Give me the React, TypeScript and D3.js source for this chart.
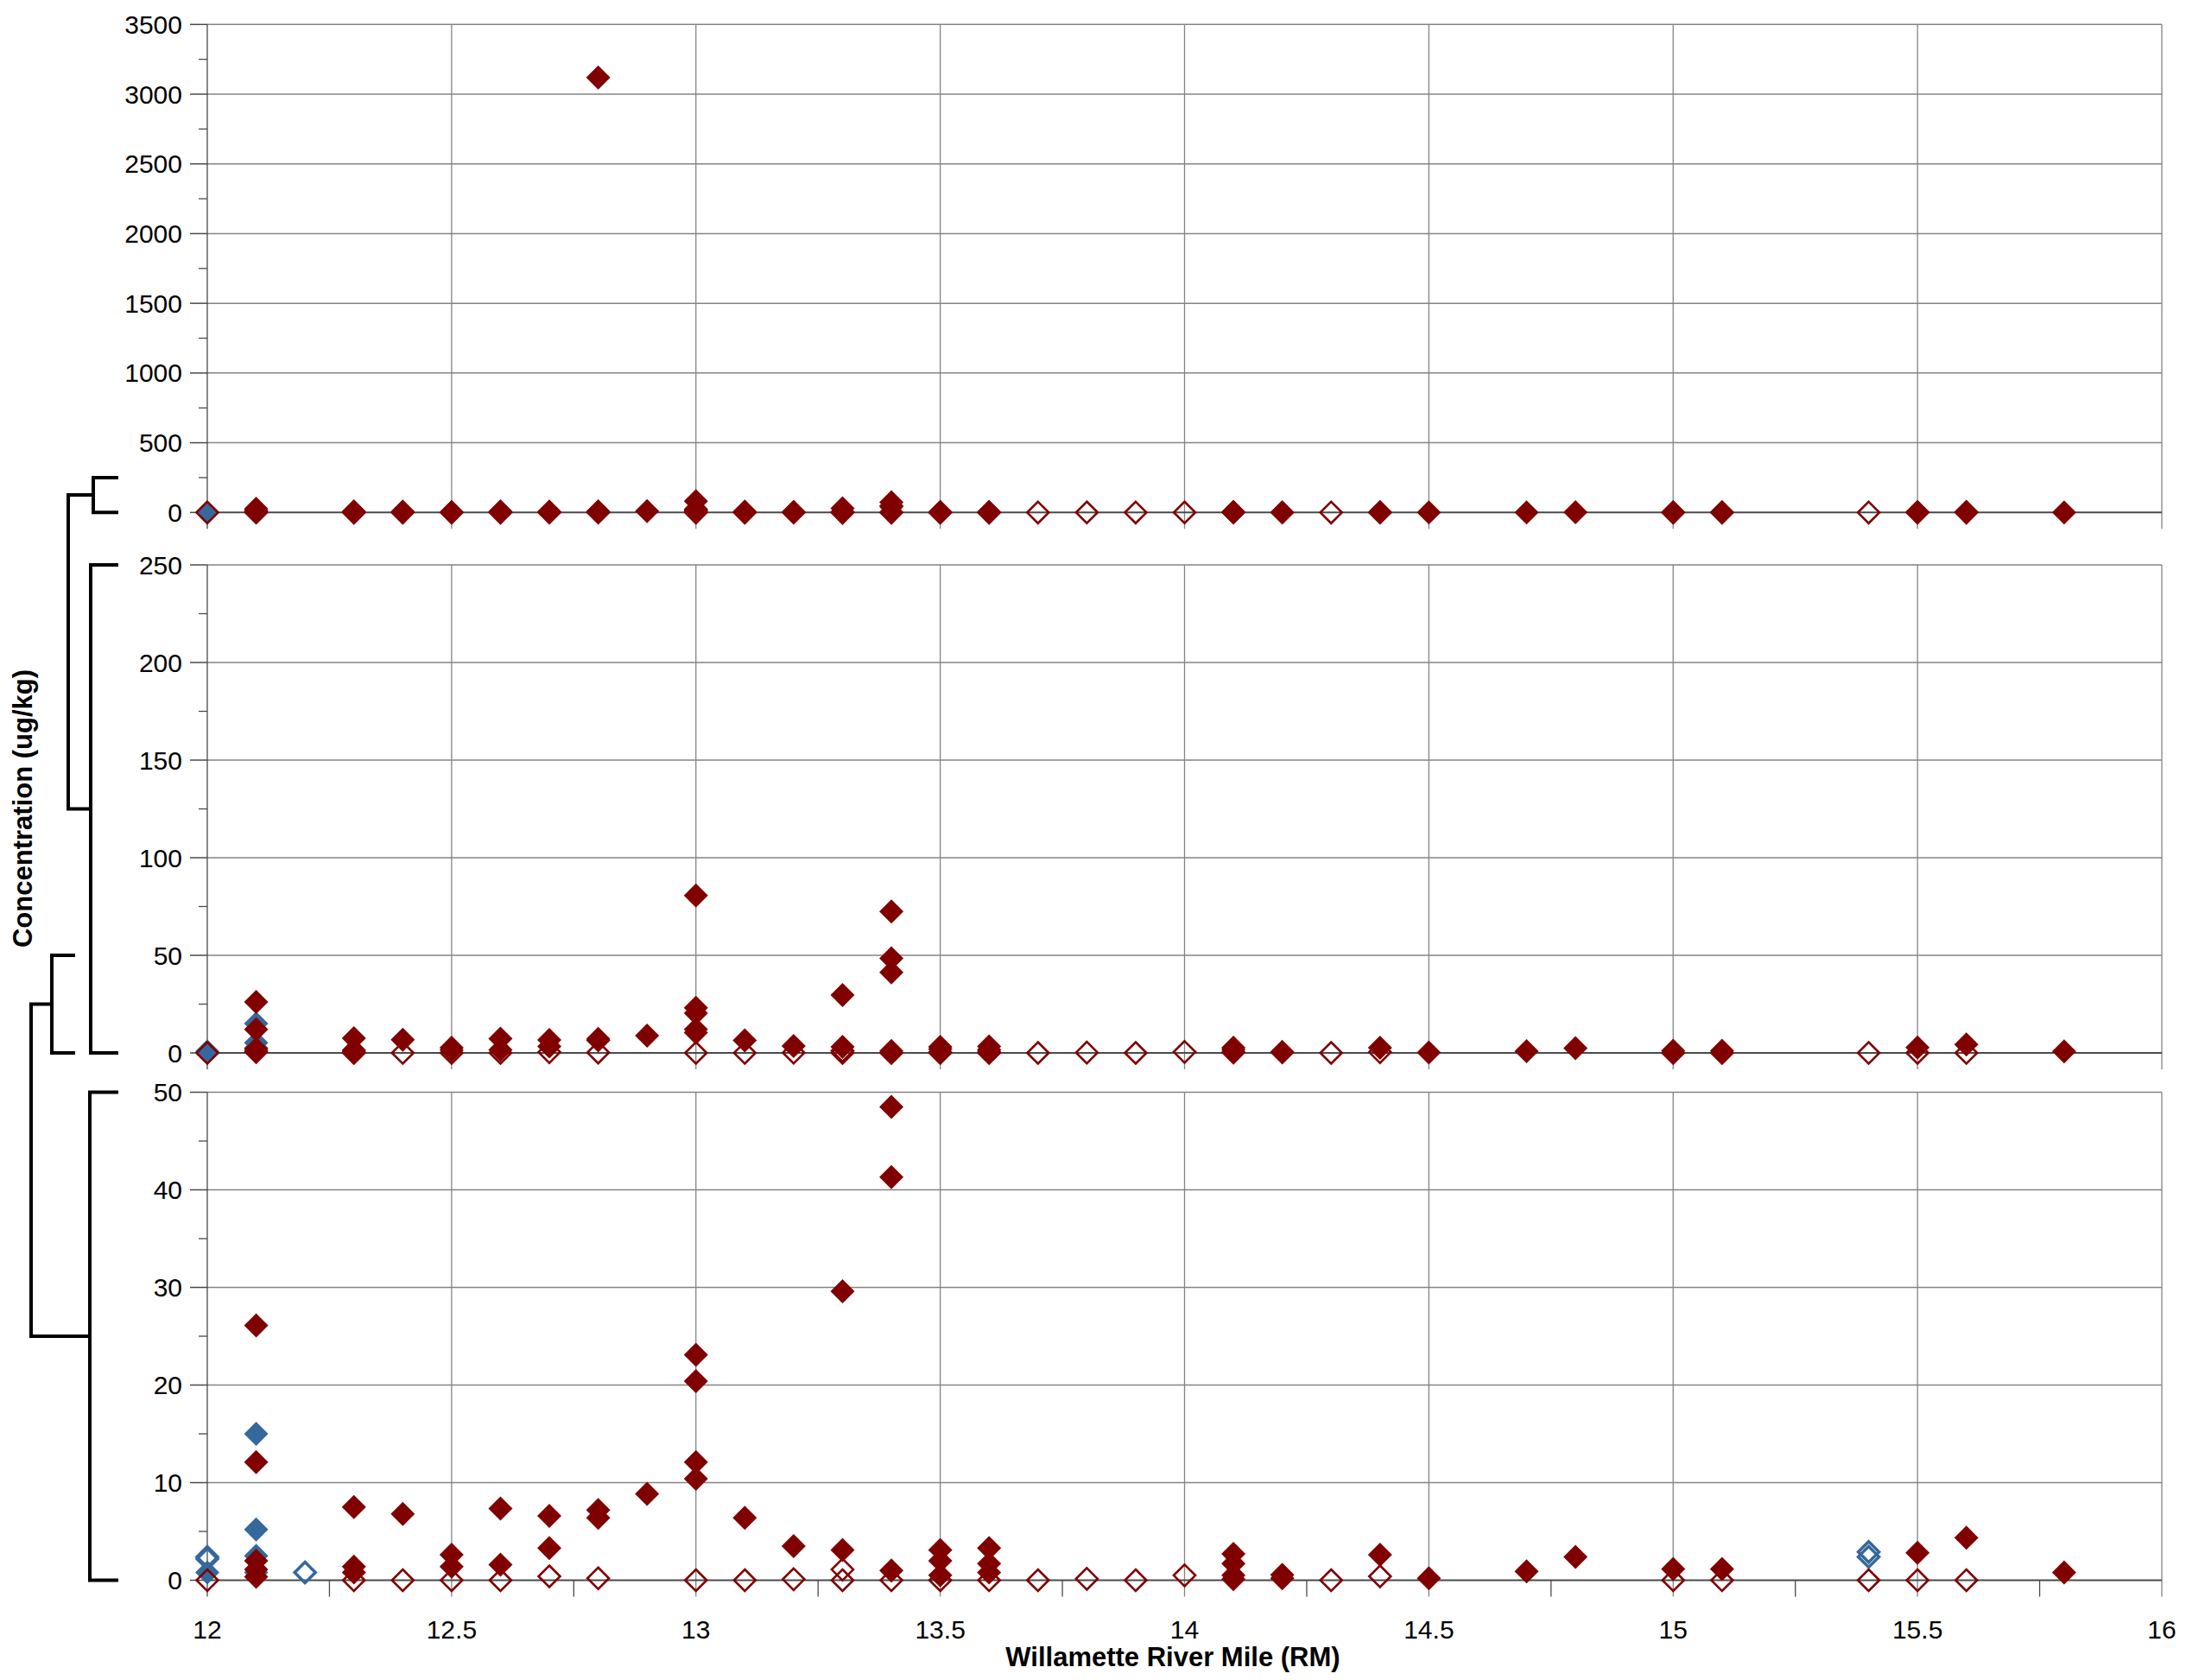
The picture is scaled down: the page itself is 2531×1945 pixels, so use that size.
import { useEffect, useRef } from 'react'
import * as d3 from 'd3'

// [river mile, concentration ug/kg]
const RED_DETECTED: [number, number][] = [
  [12.1, 26.1], [12.1, 12.1], [12.1, 2.0], [12.1, 1.1], [12.1, 0.35],
  [12.3, 7.5], [12.3, 1.4], [12.3, 0.8],
  [12.4, 6.8],
  [12.5, 2.6], [12.5, 1.4],
  [12.6, 7.35], [12.6, 1.6],
  [12.7, 6.6], [12.7, 3.3],
  [12.8, 3120], [12.8, 7.2], [12.8, 6.4],
  [12.9, 8.85],
  [13.0, 80.6], [13.0, 23.1], [13.0, 20.4], [13.0, 12.1], [13.0, 10.4],
  [13.1, 6.4],
  [13.2, 3.5],
  [13.3, 29.6], [13.3, 3.1],
  [13.4, 72.5], [13.4, 48.5], [13.4, 41.3], [13.4, 1.0],
  [13.5, 3.1], [13.5, 2.0], [13.5, 0.5],
  [13.6, 3.3], [13.6, 1.7], [13.6, 0.8],
  [14.1, 2.7], [14.1, 1.7], [14.1, 0.5], [14.1, 0.1],
  [14.2, 0.55], [14.2, 0.2],
  [14.4, 2.6],
  [14.5, 0.2],
  [14.7, 0.9],
  [14.8, 2.4],
  [15.0, 1.15],
  [15.1, 1.15],
  [15.5, 2.8],
  [15.6, 4.35],
  [15.8, 0.8],
]

const RED_NONDETECT: [number, number][] = [
  [12.0, 0], [12.3, 0], [12.4, 0], [12.5, 0], [12.6, 0], [12.7, 0.4], [12.8, 0.2],
  [13.0, 0], [13.1, 0], [13.2, 0.1], [13.3, 1.1], [13.3, 0], [13.4, 0], [13.5, 0],
  [13.6, 0], [13.7, 0], [13.8, 0.15], [13.9, 0], [14.0, 0.5], [14.3, 0], [14.4, 0.4],
  [15.0, 0], [15.1, 0], [15.4, 0], [15.5, 0], [15.6, 0],
]

const BLUE_DETECTED: [number, number][] = [
  [12.0, 0.8], [12.1, 15.0], [12.1, 5.2], [12.1, 2.5], [12.1, 0.8],
]

// only shown on the 0-50 panel
const BLUE_NONDETECT: [number, number][] = [
  [12.0, 2.4], [12.0, 2.2], [12.2, 0.8], [15.4, 2.9], [15.4, 2.4],
]

const X_TICKS = [12, 12.5, 13, 13.5, 14, 14.5, 15, 15.5, 16]
const X_MINOR = [12.25, 12.75, 13.25, 13.75, 14.25, 14.75, 15.25, 15.75]

const PANEL_MAX = [3500, 250, 50]
const PANEL_STEP = [500, 50, 10]

const RED = '#800000'
const BLUE = '#35689c'
const FONT = '"Liberation Sans", Arial, sans-serif'

const W = 2531
const H = 1945

// diamond with equal diagonals, size = half-diagonal squared
const diamond = {
  draw(ctx: d3.Path, size: number) {
    const r = Math.sqrt(size)
    ctx.moveTo(0, -r)
    ctx.lineTo(r, 0)
    ctx.lineTo(0, r)
    ctx.lineTo(-r, 0)
    ctx.closePath()
  },
}

export default function App() {
  const svgRef = useRef<SVGSVGElement>(null)

  useEffect(() => {
    const svgEl = svgRef.current
    if (!svgEl) return
    const svg = d3.select(svgEl)
    svg.selectAll('*').remove()

    const x = d3.scaleLinear().domain([12, 16]).range([240, 2503])
    const panelRanges: [number, number][] = [
      [593.3, 28.3],
      [1219, 654],
      [1829.5, 1264.5],
    ]
    const yScales = PANEL_MAX.map((m, i) => d3.scaleLinear().domain([0, m]).range(panelRanges[i]))

    const gridColor = '#848484'
    const axisColor = '#4a4a4a'

    yScales.forEach((y, i) => {
      const g = svg.append('g')
      const max = PANEL_MAX[i]
      const step = PANEL_STEP[i]
      const y0 = y(0)
      const yTop = y(max)
      const major = d3.range(0, max + step / 2, step)
      const minor = d3.range(step / 2, max, step)

      // horizontal grid
      major.filter(v => v > 0).forEach(v => {
        g.append('line')
          .attr('x1', x(12)).attr('x2', x(16))
          .attr('y1', y(v)).attr('y2', y(v))
          .attr('stroke', gridColor).attr('stroke-width', 1.5)
      })
      // vertical grid (extends below as tick marks)
      X_TICKS.forEach(t => {
        g.append('line')
          .attr('x1', x(t)).attr('x2', x(t))
          .attr('y1', yTop).attr('y2', y0 + 19)
          .attr('stroke', t === 12 ? axisColor : gridColor).attr('stroke-width', 1.3)
      })
      if (i === 2) {
        X_MINOR.forEach(t => {
          g.append('line')
            .attr('x1', x(t)).attr('x2', x(t))
            .attr('y1', y0).attr('y2', y0 + 19)
            .attr('stroke', axisColor).attr('stroke-width', 1.3)
        })
      }
      // y ticks
      major.forEach(v => {
        g.append('line')
          .attr('x1', 220).attr('x2', x(12))
          .attr('y1', y(v)).attr('y2', y(v))
          .attr('stroke', axisColor).attr('stroke-width', 1.5)
        g.append('text')
          .attr('x', 211).attr('y', y(v) + 10.5)
          .attr('text-anchor', 'end')
          .attr('fill', '#000')
          .style('font-size', '30px')
          .style('font-family', FONT)
          .text(v)
      })
      minor.forEach(v => {
        g.append('line')
          .attr('x1', 230).attr('x2', x(12))
          .attr('y1', y(v)).attr('y2', y(v))
          .attr('stroke', axisColor).attr('stroke-width', 1.3)
      })
      // zero axis line
      g.append('line')
        .attr('x1', x(12)).attr('x2', x(16))
        .attr('y1', y0).attr('y2', y0)
        .attr('stroke', axisColor).attr('stroke-width', 2)

      // points
      const inRange = (d: [number, number]) => d[1] <= max * 1.001
      const sym = d3.symbol().type(diamond as any)

      if (i === 2) {
        g.selectAll(null).data(BLUE_NONDETECT.filter(inRange)).join('path')
          .attr('d', sym.size(144)())
          .attr('transform', d => `translate(${x(d[0])},${y(d[1])})`)
          .attr('fill', 'none').attr('stroke', BLUE).attr('stroke-width', 3.5)
      }
      g.selectAll(null).data(BLUE_DETECTED.filter(inRange)).join('path')
        .attr('d', sym.size(196)())
        .attr('transform', d => `translate(${x(d[0])},${y(d[1])})`)
        .attr('fill', BLUE)
      g.selectAll(null).data(RED_NONDETECT.filter(inRange)).join('path')
        .attr('d', sym.size(156)())
        .attr('transform', d => `translate(${x(d[0])},${y(d[1])})`)
        .attr('fill', 'none').attr('stroke', RED).attr('stroke-width', 2.6)
      g.selectAll(null).data(RED_DETECTED.filter(inRange)).join('path')
        .attr('d', sym.size(196)())
        .attr('transform', d => `translate(${x(d[0])},${y(d[1])})`)
        .attr('fill', RED)
    })

    // x tick labels
    const yb = yScales[2](0)
    X_TICKS.forEach(t => {
      svg.append('text')
        .attr('x', x(t)).attr('y', yb + 67)
        .attr('text-anchor', 'middle')
        .attr('fill', '#000')
        .style('font-size', '30px')
        .style('font-family', FONT)
        .text(t)
    })

    // axis titles
    svg.append('text')
      .attr('x', 1358).attr('y', 1929)
      .attr('text-anchor', 'middle')
      .style('font-size', '31px').style('font-weight', 'bold')
      .style('font-family', FONT)
      .text('Willamette River Mile (RM)')
    svg.append('text')
      .attr('transform', 'translate(37,936) rotate(-90)')
      .attr('text-anchor', 'middle')
      .style('font-size', '31px').style('font-weight', 'bold')
      .style('font-family', FONT)
      .text('Concentration (ug/kg)')

    // brackets showing the zoomed ranges
    const [yT, yM, yB] = yScales
    const br = svg.append('g').attr('fill', 'none').attr('stroke', '#000').attr('stroke-width', 4)
    const bracket = (xv: number, xr: number, y1: number, y2: number) =>
      br.append('path').attr('d', `M${xr},${y1}H${xv}V${y2}H${xr}`)
    bracket(108, 137, yT(250), yT(0))
    bracket(105, 137, yM(250), yM(0))
    bracket(60, 87, yM(50), yM(0))
    bracket(104, 137, yB(50), yB(0))
    const topMid = (yT(250) + yT(0)) / 2
    const midMid = (yM(250) + yM(0)) / 2
    const lowMid = (yM(50) + yM(0)) / 2
    const botMid = (yB(50) + yB(0)) / 2
    br.append('path').attr('d', `M108,${topMid}H79V${midMid}H105`)
    br.append('path').attr('d', `M60,${lowMid}H36V${botMid}H104`)
  }, [])

  return (
    <svg
      ref={svgRef}
      width={W}
      height={H}
      style={{ position: 'absolute', left: 0, top: 0, background: '#fff' }}
    />
  )
}
